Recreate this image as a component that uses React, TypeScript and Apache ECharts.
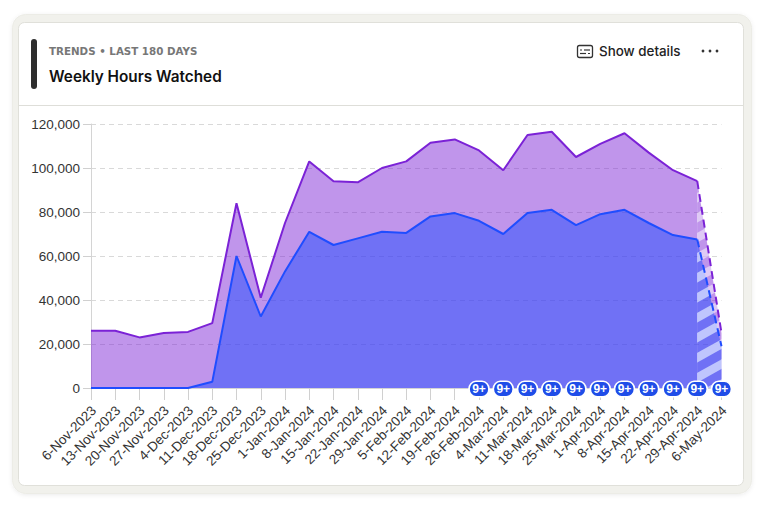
import React, { useEffect, useRef } from "react";
import * as echarts from "echarts";

const categories = ["6-Nov-2023","13-Nov-2023","20-Nov-2023","27-Nov-2023","4-Dec-2023","11-Dec-2023","18-Dec-2023","25-Dec-2023","1-Jan-2024","8-Jan-2024","15-Jan-2024","22-Jan-2024","29-Jan-2024","5-Feb-2024","12-Feb-2024","19-Feb-2024","26-Feb-2024","4-Mar-2024","11-Mar-2024","18-Mar-2024","25-Mar-2024","1-Apr-2024","8-Apr-2024","15-Apr-2024","22-Apr-2024","29-Apr-2024","6-May-2024"];
const purpleSolid = [26000,26000,23000,25000,25500,29500,84000,41000,75000,103000,94000,93500,100000,103000,111500,113000,108000,99000,115000,116500,105000,111000,115800,107000,99000,94000];
const blueSolid = [0,0,0,0,0,2800,60000,32500,53000,71000,65000,68000,71000,70500,78000,79500,76000,70000,79500,81000,74000,79000,81000,75000,69500,67500];
const purpleLast = 25000;
const blueLast = 19000;
const badgeCategories = categories.slice(16);
const badgeText = "9+";
const yTicks = [0,20000,40000,60000,80000,100000,120000];

const PURPLE = "#7b22d6";
const BLUE = "#1f4dff";
const PURPLE_FILL = "rgba(123,34,214,0.48)";
const BLUE_FILL = "rgba(31,77,255,0.5)";

function hatch(base: string, stripe: string) {
  const W = 36, H = 20, phase = 5;
  const c = document.createElement("canvas");
  c.width = W; c.height = H;
  const g = c.getContext("2d")!;
  g.fillStyle = base;
  g.fillRect(0, 0, W, H);
  g.strokeStyle = stripe;
  g.lineWidth = 8.5;
  for (let k = -2; k <= 2; k++) {
    g.beginPath();
    g.moveTo(-W, H * (k + 2) + phase);
    g.lineTo(2 * W, H * (k - 1) + phase);
    g.stroke();
  }
  return { image: c, repeat: "repeat" };
}

export default function App() {
  const ref = useRef<HTMLDivElement>(null);
  useEffect(() => {
    document.body.style.margin = "0";
    const chart = echarts.init(ref.current!, undefined, { renderer: "svg" });
    const n = categories.length;
    const tail = (solid: number[], last: number) => categories.map((_, i) => (i === n - 2 ? solid[solid.length - 1] : i === n - 1 ? last : null));
    const font = "Inter, 'Noto Sans', sans-serif";
    const pill = "path://M7 0H13A7 7 0 0 1 13 14H7A7 7 0 0 1 7 0Z";
    chart.setOption({
      animation: false,
      backgroundColor: "#fff",
      grid: { left: 91, right: 48.5, top: 124, bottom: 124 },
      xAxis: {
        type: "category", boundaryGap: false, data: categories,
        axisLine: { show: true, lineStyle: { color: "#d4d4d4" } },
        axisTick: { show: true, length: 12, alignWithLabel: true, lineStyle: { color: "#d0d0d0" } },
        axisLabel: { interval: 0, rotate: 45, margin: 23, padding: [4, -4, 0, 0], fontSize: 13.5, color: "#333", fontFamily: "'Liberation Sans', Arial, sans-serif" },
        splitLine: { show: false },
      },
      yAxis: {
        type: "value", min: 0, max: 120000, interval: 20000,
        axisLine: { show: true, lineStyle: { color: "#d4d4d4" } },
        axisTick: { show: true, length: 8, lineStyle: { color: "#d0d0d0" } },
        axisLabel: { margin: 11, fontSize: 13.5, color: "#333", fontFamily: "'Liberation Sans', Arial, sans-serif", formatter: (v: number) => (yTicks.includes(v) ? v.toLocaleString("en-US") : "") },
        splitLine: { show: true, lineStyle: { color: "#d9d9d9", type: [5, 4], width: 1 } },
      },
      series: [
        { name: "Purple", type: "line", data: purpleSolid, symbol: "none", z: 3, lineStyle: { color: PURPLE, width: 2 }, areaStyle: { color: PURPLE_FILL, opacity: 1 } },
        { name: "Purple forecast", type: "line", data: tail(purpleSolid, purpleLast), symbol: "none", connectNulls: false, z: 3, lineStyle: { color: PURPLE, width: 2, type: [8, 5] }, areaStyle: { color: hatch(PURPLE_FILL, "rgba(255,255,255,0.5)"), opacity: 1 } },
        { name: "Blue", type: "line", data: blueSolid, symbol: "none", z: 4, lineStyle: { color: BLUE, width: 2 }, areaStyle: { color: BLUE_FILL, opacity: 1 } },
        { name: "Blue forecast", type: "line", data: tail(blueSolid, blueLast), symbol: "none", connectNulls: false, z: 4, lineStyle: { color: BLUE, width: 2, type: [8, 5] }, areaStyle: { color: hatch(BLUE_FILL, "rgba(255,255,255,0.5)"), opacity: 1 } },
        {
          name: "Badges", type: "scatter", z: 10,
          data: badgeCategories.map((c) => [c, 0]),
          symbol: pill, symbolSize: [20, 15.5], symbolOffset: [0, 1],
          itemStyle: { color: "#1f4de8", borderColor: "#fff", borderWidth: 1.5, opacity: 1 },
          label: { show: true, position: "inside", formatter: () => badgeText, color: "#fff", fontSize: 12, fontWeight: 700, fontFamily: "'Liberation Sans', Arial, sans-serif" },
        },
      ],
      graphic: [
        { type: "rect", z: 0, silent: true, shape: { x: 12.5, y: 14.5, width: 739, height: 479, r: 13 }, style: { fill: "#f1f1ec", stroke: "#ecece6", shadowBlur: 4, shadowColor: "rgba(0,0,0,0.08)", shadowOffsetY: 1 } },
        { type: "rect", z: 0, silent: true, shape: { x: 18.5, y: 22.5, width: 725, height: 463, r: 6 }, style: { fill: "#fff", stroke: "#e0e0da", lineWidth: 1 } },
        { type: "line", z: 0, silent: true, shape: { x1: 19, y1: 105.5, x2: 743, y2: 105.5 }, style: { stroke: "#deded9", lineWidth: 1 } },
        { type: "rect", z: 1, silent: true, shape: { x: 31, y: 39, width: 6, height: 50, r: 3 }, style: { fill: "#2e2e2e" } },
        { type: "text", z: 1, x: 49, y: 51, style: { text: "TRENDS • LAST 180 DAYS", fill: "#777", font: "700 10.3px 'DejaVu Sans', sans-serif", verticalAlign: "middle" } },
        { type: "text", z: 1, x: 49, y: 76, style: { text: "Weekly Hours Watched", fill: "#111", font: `600 15.3px ${font}`, verticalAlign: "middle" } },
        { type: "text", z: 1, x: 599, y: 51, style: { text: "Show details", fill: "#222", font: `500 13.4px ${font}`, verticalAlign: "middle" } },
        { type: "rect", z: 1, silent: true, shape: { x: 577.5, y: 45.5, width: 15, height: 12, r: 2 }, style: { fill: "none", stroke: "#333", lineWidth: 1.3 } },
        { type: "line", z: 1, silent: true, shape: { x1: 580, y1: 50, x2: 582, y2: 50 }, style: { stroke: "#333", lineWidth: 1.2 } },
        { type: "line", z: 1, silent: true, shape: { x1: 584, y1: 50, x2: 590, y2: 50 }, style: { stroke: "#333", lineWidth: 1.2 } },
        { type: "line", z: 1, silent: true, shape: { x1: 580, y1: 53.5, x2: 586, y2: 53.5 }, style: { stroke: "#333", lineWidth: 1.2 } },
        { type: "line", z: 1, silent: true, shape: { x1: 588, y1: 53.5, x2: 590, y2: 53.5 }, style: { stroke: "#333", lineWidth: 1.2 } },
        { type: "circle", z: 1, silent: true, shape: { cx: 703, cy: 51, r: 1.4 }, style: { fill: "#333" } },
        { type: "circle", z: 1, silent: true, shape: { cx: 710, cy: 51, r: 1.4 }, style: { fill: "#333" } },
        { type: "circle", z: 1, silent: true, shape: { cx: 717, cy: 51, r: 1.4 }, style: { fill: "#333" } },
      ],
    });
    return () => chart.dispose();
  }, []);
  return <div ref={ref} style={{ position: "absolute", left: 0, top: 0, width: 770, height: 512 }} />;
}
